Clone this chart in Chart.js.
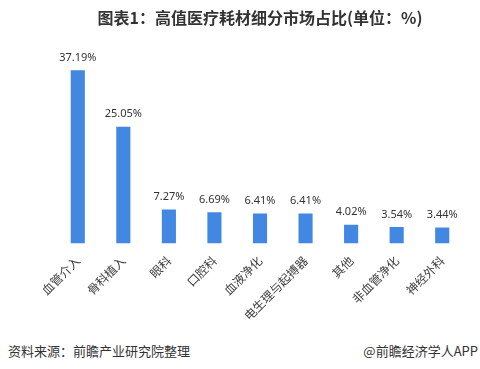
<!DOCTYPE html>
<html>
<head>
<meta charset="utf-8">
<script src="https://cdn.jsdelivr.net/npm/chart.js@4"></script>
<style>
  body { margin: 0; background: #fff; }
  #wrap { position: relative; width: 480px; height: 369px; font-family: "Noto Sans CJK SC", "Noto Sans", sans-serif; }
  #chartBox { position: absolute; left: 0; top: 0; width: 480px; height: 330px; }
  .foot { position: absolute; top: 341px; font-size: 13px; color: #333; }
</style>
</head>
<body>
<div id="wrap">
  <div id="chartBox"><canvas id="shareChart"></canvas></div>
  <div class="foot" style="left:8px;">资料来源：前瞻产业研究院整理</div>
  <div class="foot" style="right:2px;">@前瞻经济学人APP</div>
</div>
<script>
var categories = ['血管介入', '骨科植入', '眼科', '口腔科', '血液净化', '电生理与起搏器', '其他', '非血管净化', '神经外科'];
var shares = [37.19, 25.05, 7.27, 6.69, 6.41, 6.41, 4.02, 3.54, 3.44];
var titleText = '图表1：高值医疗耗材细分市场占比(单位：%)';

// value labels above the bars
var barLabels = {
    id: 'barLabels',
    afterDatasetsDraw: function(chart) {
        var ctx = chart.ctx;
        var meta = chart.getDatasetMeta(0);
        ctx.save();
        ctx.font = '11px "Noto Sans", "Noto Sans CJK SC", sans-serif';
        ctx.fillStyle = '#333';
        ctx.textAlign = 'center';
        ctx.textBaseline = 'bottom';
        for (var i = 0; i < meta.data.length; i++) {
            var bar = meta.data[i];
            ctx.fillText(shares[i].toFixed(2) + '%', bar.x, bar.y - 7);
        }
        ctx.restore();
    }
};

new Chart(document.getElementById('shareChart'), {
    type: 'bar',
    data: {
        labels: categories,
        datasets: [{
            data: shares,
            backgroundColor: '#4287e2',
            barPercentage: 0.31,
            categoryPercentage: 1.0
        }]
    },
    options: {
        responsive: true,
        maintainAspectRatio: false,
        animation: false,
        layout: { padding: { left: 55, right: 15, top: 0, bottom: 5 } },
        plugins: {
            legend: { display: false },
            tooltip: { enabled: false },
            title: {
                display: true,
                text: titleText,
                color: '#333',
                font: { size: 16, weight: 'bold', family: '"Noto Sans CJK SC", sans-serif' },
                padding: { top: 8, bottom: 30 }
            }
        },
        scales: {
            x: {
                grid: { display: false },
                border: { display: false },
                ticks: {
                    color: '#404040',
                    minRotation: 45,
                    maxRotation: 45,
                    padding: 2,
                    font: { size: 12, family: '"Noto Sans CJK SC", sans-serif' }
                }
            },
            y: {
                display: false,
                min: 0,
                max: 40
            }
        }
    },
    plugins: [barLabels]
});
</script>
</body>
</html>
